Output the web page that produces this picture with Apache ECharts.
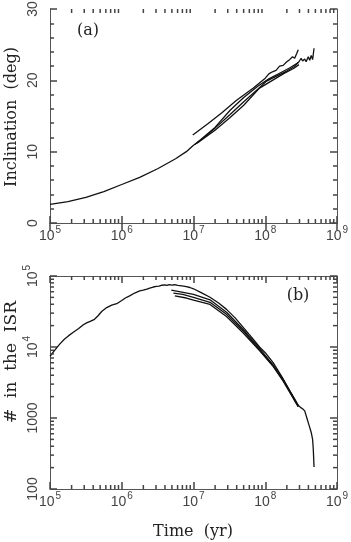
<!DOCTYPE html>
<html>
<head>
<meta charset="utf-8">
<script src="https://cdn.jsdelivr.net/npm/echarts@6/dist/echarts.min.js"></script>
<style>html,body{margin:0;padding:0;background:#fff}#c{width:351px;height:542px}</style>
</head>
<body>
<div id="c"></div>
<script>
// ---- Panel (a): inclination (deg) vs time; times stored as log10(yr) ----
const incMainLogT = [5.0,5.25,5.5,5.75,6.0,6.25,6.5,6.75,6.9,7.0,7.11,7.3,7.51,7.7,7.9,8.02,8.1,8.2,8.3,8.4,8.44,8.47,8.5,8.52,8.55,8.57,8.6,8.62,8.64,8.66,8.68];
const incMainVal  = [2.6,3.0,3.6,4.4,5.4,6.4,7.6,9.0,10.0,10.9,11.7,13.3,15.2,17.0,18.8,19.9,20.3,20.8,21.3,21.9,22.3,22.6,23.1,22.7,23.0,22.6,23.3,22.8,23.5,22.9,24.5];
const incB1LogT = [6.99,7.2,7.4,7.6,7.83,8.0,8.05,8.1,8.15,8.2,8.25,8.3,8.34,8.38,8.41,8.44,8.46];
const incB1Val  = [12.35,13.9,15.5,17.2,18.9,20.3,20.9,21.2,21.4,22.0,22.1,22.6,22.9,23.3,23.1,23.8,24.3];
const incB2LogT = [7.02,7.3,7.51,7.7,7.9,8.05,8.2,8.35,8.46];
const incB2Val  = [11.0,13.4,15.8,17.6,19.2,20.2,21.0,21.8,22.5];
const incB3LogT = [7.05,7.3,7.51,7.7,7.92,8.1,8.25,8.4,8.47];
const incB3Val  = [11.2,13.0,14.8,16.5,18.9,20.0,20.9,21.7,22.2];

// ---- Panel (b): number in the ISR vs time; log10 values ----
const isrMainLogT = [5.0,5.07,5.135,5.2,5.26,5.32,5.4,5.46,5.51,5.56,5.62,5.67,5.72,5.79,5.86,5.93,6.0,6.05,6.11,6.18,6.25,6.3,6.35,6.39,6.44,6.48,6.52,6.56,6.6,6.63,6.66,6.7,6.74,6.78,6.81,6.86,6.9,6.95,7.0,7.1,7.23,7.35,7.46,7.58,7.69,7.8,7.92,8.0,8.11,8.25,8.35,8.42,8.46,8.49,8.52,8.55,8.58,8.61,8.64,8.66,8.67,8.68];
const isrMainLogN = [3.87,3.96,4.04,4.11,4.16,4.205,4.26,4.31,4.34,4.36,4.39,4.44,4.50,4.555,4.59,4.61,4.655,4.69,4.72,4.76,4.79,4.80,4.815,4.83,4.845,4.855,4.857,4.87,4.875,4.868,4.878,4.872,4.877,4.868,4.865,4.858,4.85,4.838,4.82,4.77,4.70,4.62,4.53,4.41,4.28,4.15,4.0,3.92,3.78,3.55,3.37,3.25,3.18,3.15,3.13,3.10,3.0,2.9,2.8,2.7,2.55,2.31];
const isrB1LogT = [6.69,6.8,7.0,7.23,7.46,7.69,7.92,8.1,8.25,8.4,8.46];
const isrB1LogN = [4.80,4.78,4.74,4.665,4.49,4.25,3.98,3.76,3.54,3.28,3.17];
const isrB2LogT = [6.72,6.85,7.0,7.23,7.46,7.69,7.92,8.1,8.25,8.4,8.46];
const isrB2LogN = [4.76,4.74,4.70,4.63,4.46,4.23,3.96,3.75,3.53,3.27,3.16];
const isrB3LogT = [6.74,6.9,7.0,7.23,7.46,7.69,7.92,8.1,8.25,8.4,8.46];
const isrB3LogN = [4.72,4.69,4.66,4.60,4.43,4.20,3.95,3.74,3.52,3.26,3.16];

// ---- tick labels ----
const xTickExp = [5,6,7,8,9];
const incTicks = [0,10,20,30];
const isrTickLabels = {100:'100', 1000:'1000', 10000:'10^4', 100000:'10^5'};

const pow = (e) => Math.pow(10, e);
const pairs = (xs, ys, logY) => xs.map((x, i) => [pow(x), logY ? pow(ys[i]) : ys[i]]);

const AX = '#555', TICK = '#444', TXT = '#444', LINE = '#111';
const labelFont = 'Liberation Sans';
const nameFont = 'DejaVu Serif';

const makeRich = () => ({
  b: {fontSize: 14, fontFamily: labelFont, color: TXT, lineHeight: 18, verticalAlign: 'bottom'},
  s: {fontSize: 10, fontFamily: labelFont, color: TXT, lineHeight: 18, verticalAlign: 'top', padding: [0,0,0,1]}
});
const supLabel = (v) => '{b|10}{s|' + Math.round(Math.log10(v)) + '}';
const tick = () => ({show: true, inside: true, length: 7, lineStyle: {color: TICK, width: 1.5}});
const line = () => ({show: true, lineStyle: {color: AX, width: 1}});

function xAxis(grid, pos) {
  return {
    gridIndex: grid, type: 'log', logBase: 10, min: 1e5, max: 1e9, position: pos,
    axisLine: line(), axisTick: tick(), splitLine: {show: false},
    axisLabel: pos === 'bottom' ? {show: true, margin: 2, formatter: supLabel, rich: makeRich()} : {show: false}
  };
}

const minorMult = [2,3,4,5,6,7,8,9];
const xMinor = [];
xTickExp.slice(0, -1).forEach(e => minorMult.forEach(m => xMinor.push(m * pow(e))));
const yMinor = [];
[2,3,4].forEach(e => minorMult.forEach(m => yMinor.push(m * pow(e))));

// log-axis minor ticks drawn through the library's coordinate system; dx,dy = inward direction
function minorSeries(xi, yi, points, dx, dy) {
  return {
    type: 'custom', xAxisIndex: xi, yAxisIndex: yi, silent: true, clip: false, z: 10,
    data: points,
    renderItem: function (params, api) {
      const p = api.coord([api.value(0), api.value(1)]);
      const L = 4;
      return {type: 'line', shape: {x1: p[0], y1: p[1], x2: p[0] + dx * L, y2: p[1] + dy * L},
              style: {stroke: TICK, lineWidth: 1.5}};
    }
  };
}

function curve(xi, yi, data) {
  return {type: 'line', xAxisIndex: xi, yAxisIndex: yi, data: data, showSymbol: false, symbol: 'none',
    lineStyle: {color: LINE, width: 1.3}};
}

const yLabel = (extra) => Object.assign({show: true, rotate: 90, margin: 10, fontSize: 14, fontFamily: labelFont, color: TXT}, extra || {});

const option = {
  grid: [
    {left: 50, top: 9, width: 287, height: 214, containLabel: false, outerBoundsMode: 'none'},
    {left: 50, top: 276, width: 287, height: 213, containLabel: false, outerBoundsMode: 'none'}
  ],
  xAxis: [xAxis(0, 'bottom'), xAxis(0, 'top'), xAxis(1, 'bottom'), xAxis(1, 'top')],
  yAxis: [
    {gridIndex: 0, type: 'value', min: incTicks[0], max: incTicks[incTicks.length - 1], interval: 10, position: 'left',
     axisLine: line(), axisTick: tick(),
     minorTick: {show: true, splitNumber: 5, length: 4, lineStyle: {color: TICK, width: 1.5}},
     splitLine: {show: false}, axisLabel: yLabel()},
    {gridIndex: 0, type: 'value', min: 0, max: 30, interval: 10, position: 'right',
     axisLine: line(), axisTick: tick(),
     minorTick: {show: true, splitNumber: 5, length: 4, lineStyle: {color: TICK, width: 1.5}},
     splitLine: {show: false}, axisLabel: {show: false}},
    {gridIndex: 1, type: 'log', logBase: 10, min: 100, max: 1e5, position: 'left',
     axisLine: line(), axisTick: tick(), splitLine: {show: false},
     axisLabel: yLabel({
       formatter: function (v) {
         const s = isrTickLabels[Math.round(v)] || '';
         if (s.indexOf('^') > 0) { const p = s.split('^'); return '{b|' + p[0] + '}{s|' + p[1] + '}'; }
         return '{b|' + s + '}';
       }, rich: makeRich()})},
    {gridIndex: 1, type: 'log', logBase: 10, min: 100, max: 1e5, position: 'right',
     axisLine: line(), axisTick: tick(), splitLine: {show: false}, axisLabel: {show: false}}
  ],
  series: [
    minorSeries(0, 0, xMinor.map(v => [v, 0]), 0, -1),
    minorSeries(0, 0, xMinor.map(v => [v, 30]), 0, 1),
    minorSeries(2, 2, xMinor.map(v => [v, 100]), 0, -1),
    minorSeries(2, 2, xMinor.map(v => [v, 1e5]), 0, 1),
    minorSeries(2, 2, yMinor.map(v => [1e5, v]), 1, 0),
    minorSeries(2, 2, yMinor.map(v => [1e9, v]), -1, 0),
    curve(0, 0, pairs(incMainLogT, incMainVal, false)),
    curve(0, 0, pairs(incB1LogT, incB1Val, false)),
    curve(0, 0, pairs(incB2LogT, incB2Val, false)),
    curve(0, 0, pairs(incB3LogT, incB3Val, false)),
    curve(2, 2, pairs(isrMainLogT, isrMainLogN, true)),
    curve(2, 2, pairs(isrB1LogT, isrB1LogN, true)),
    curve(2, 2, pairs(isrB2LogT, isrB2LogN, true)),
    curve(2, 2, pairs(isrB3LogT, isrB3LogN, true))
  ],
  graphic: [
    {type: 'text', x: 12, y: 117, rotation: Math.PI / 2,
     style: {text: 'Inclination  (deg)', font: '16px "' + nameFont + '"', fill: '#222', textAlign: 'center', textVerticalAlign: 'middle'}},
    {type: 'text', x: 12, y: 362, rotation: Math.PI / 2,
     style: {text: '#  in  the  ISR', font: '17px "' + nameFont + '"', fill: '#222', textAlign: 'center', textVerticalAlign: 'middle'}},
    {type: 'text', x: 193, y: 532,
     style: {text: 'Time  (yr)', font: '16px "' + nameFont + '"', fill: '#222', textAlign: 'center', textVerticalAlign: 'middle'}},
    {type: 'text', x: 88, y: 31,
     style: {text: '(a)', font: '16px "' + nameFont + '"', fill: '#222', textAlign: 'center', textVerticalAlign: 'middle'}},
    {type: 'text', x: 298, y: 296,
     style: {text: '(b)', font: '16px "' + nameFont + '"', fill: '#222', textAlign: 'center', textVerticalAlign: 'middle'}}
  ]
};

const chart = echarts.init(document.getElementById('c'), null, {renderer: 'canvas'});
chart.setOption(option);
</script>
</body>
</html>
